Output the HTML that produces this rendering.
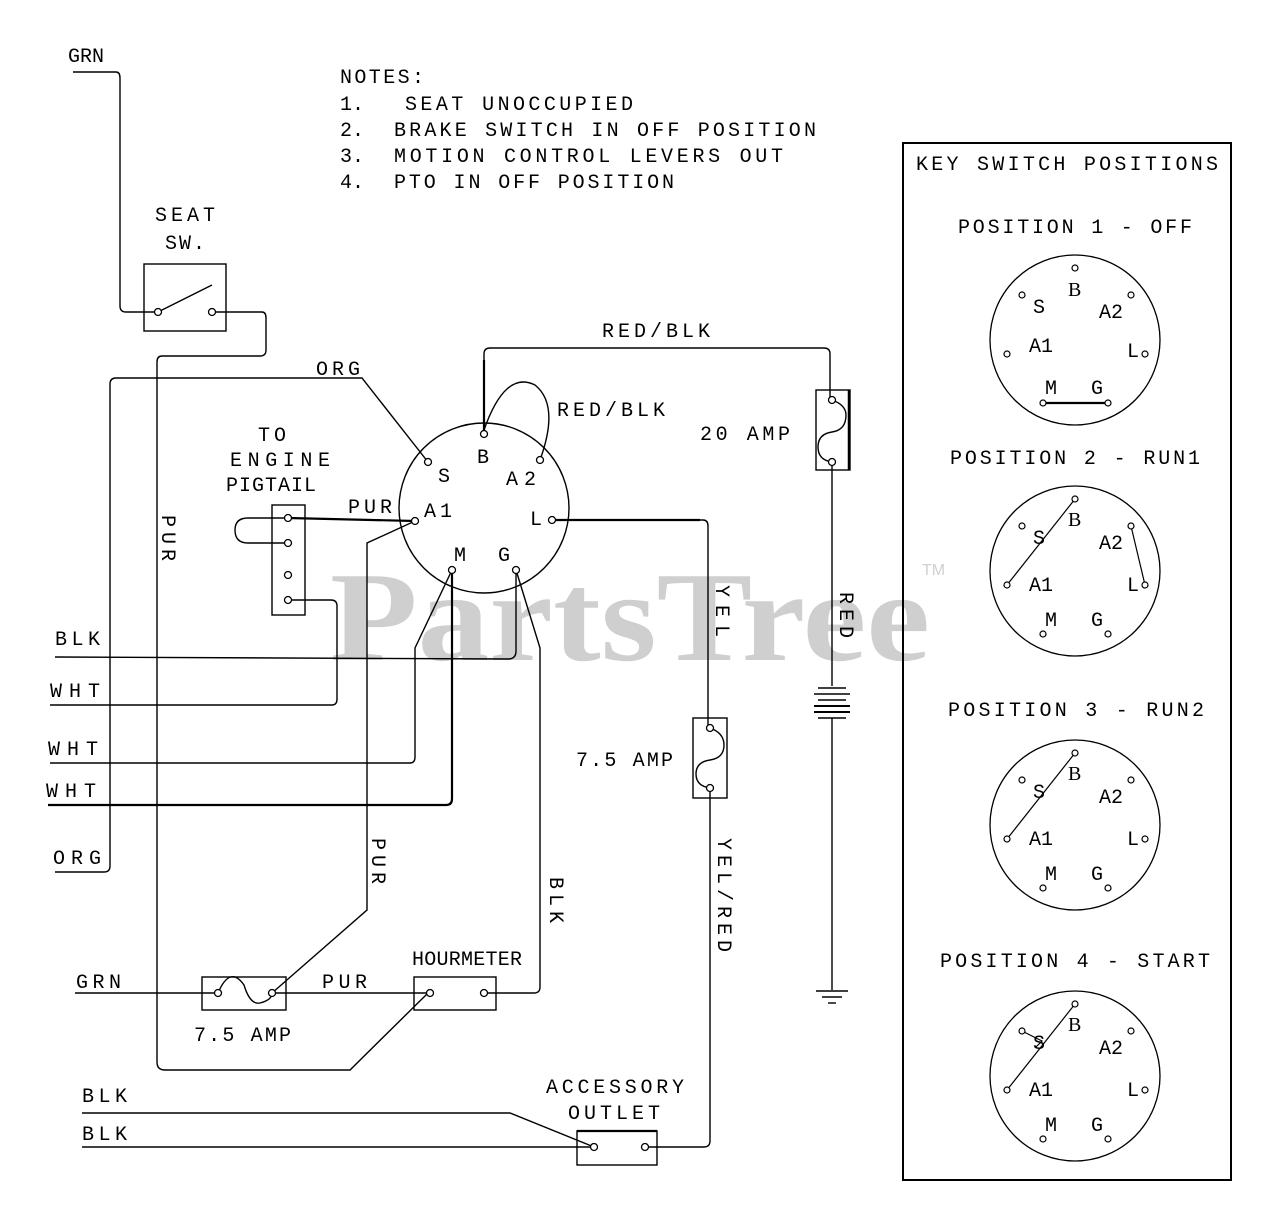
<!DOCTYPE html>
<html><head><meta charset="utf-8"><style>
html,body{margin:0;padding:0;background:#fff}
svg{display:block}
text{font-family:"Liberation Mono",monospace;font-size:20px;fill:#000}
</style></head><body>
<svg width="1280" height="1220" viewBox="0 0 1280 1220" xmlns="http://www.w3.org/2000/svg">
<text x="330" y="660" style="font-family:'Liberation Serif',serif;font-weight:bold;font-size:128px;fill:#cfcfcf" textLength="600" lengthAdjust="spacingAndGlyphs">PartsTree</text>
<text x="922" y="575" style="font-family:'Liberation Sans',sans-serif;font-size:16px;fill:#d0d0d0">TM</text>

<g fill="none" stroke="#000" stroke-width="1.4">
<path d="M73 72 H116 Q120 72 120 78 V306 Q120 312 126 312 H158"/>
<rect x="144" y="264" width="82" height="67"/>
<line x1="160" y1="311" x2="212" y2="285"/>
<path d="M212 312 H262 Q266 312 266 318 V350 Q266 356 260 356 H162 Q157 356 157 362 V1062 Q157 1070 165 1070 H350 L428 993"/>
<path d="M55 872 H104 Q110 872 110 866 V384 Q110 378 116 378 H362 L428 462"/>
<line x1="55" y1="657" x2="508" y2="659"/>
<path d="M508 659 Q516 659 516 651 V570"/>
<path d="M50 705 H332 Q337 705 337 699 V606 Q337 600 331 600 H288"/>
<path d="M50 763 H410 Q415 763 415 757 V648 L452 570"/>
<path d="M48 805 H446 Q452 805 452 799 V570" stroke-width="2.2"/>
<rect x="272" y="505" width="33" height="110"/>
<path d="M288 518 H248 Q235 518 235 530 Q235 543 248 543 H288"/>
<line x1="288" y1="518" x2="415" y2="521" stroke-width="2.2"/>
<path d="M415 521 L367 543 V910 L272 993"/>
<circle cx="484" cy="508" r="85"/>
<path d="M484 434 V354 Q484 348 490 348 H824 Q830 348 830 354 V400"/>
<line x1="484" y1="434" x2="484" y2="360" stroke-width="2.2"/>
<path d="M484 430 Q505 370 535 385 Q560 405 540 460"/>
<path d="M552 520 H703 Q708 520 708 526 V728"/>
<line x1="552" y1="520" x2="700" y2="520" stroke-width="2.2"/>
<path d="M516 570 L540 648 V987 Q540 993 534 993 H484"/>
<rect x="816" y="390" width="34" height="80"/>
<line x1="849" y1="390" x2="849" y2="470" stroke-width="2.5"/>
<path d="M832 400 Q846 405 846 415 Q846 430 832 432 Q818 434 818 447 Q818 460 832 462"/>
<line x1="832" y1="462" x2="832" y2="686"/>
<line x1="818" y1="688" x2="846" y2="688"/>
<line x1="814" y1="694" x2="850" y2="694"/>
<line x1="818" y1="700" x2="846" y2="700"/>
<line x1="814" y1="706" x2="850" y2="706" stroke-width="2"/>
<line x1="814" y1="712" x2="850" y2="712" stroke-width="2"/>
<line x1="818" y1="718" x2="846" y2="718"/>
<line x1="832" y1="718" x2="832" y2="990"/>
<line x1="816" y1="991" x2="848" y2="991"/>
<line x1="822" y1="997" x2="842" y2="997"/>
<line x1="828" y1="1003" x2="836" y2="1003"/>
<rect x="693" y="718" width="34" height="80"/>
<path d="M710 728 Q724 733 724 745 Q724 758 710 760 Q696 762 696 774 Q696 786 710 788"/>
<path d="M710 788 V1141 Q710 1147 704 1147 H645"/>
<line x1="75" y1="993" x2="218" y2="993"/>
<rect x="202" y="977" width="84" height="33"/>
<path d="M218 993 Q230 965 244 985 Q250 1005 260 1003 Q272 1000 272 993"/>
<line x1="272" y1="993" x2="430" y2="993"/>
<rect x="414" y="977" width="82" height="33"/>
<path d="M82 1113 H510 L594 1147"/>
<line x1="82" y1="1147" x2="594" y2="1147"/>
<rect x="577" y="1131" width="80" height="34"/>
<line x1="577" y1="1131" x2="657" y2="1131" stroke-width="2.2"/>
<rect x="903" y="143" width="328" height="1037" stroke-width="2"/>
</g>
<g fill="#fff" stroke="#000" stroke-width="1.3">
<circle cx="158" cy="312" r="3.5"/><circle cx="212" cy="312" r="3.5"/>
<circle cx="288" cy="518" r="3.5"/><circle cx="288" cy="543" r="3.5"/><circle cx="288" cy="575" r="3.5"/><circle cx="288" cy="600" r="3.5"/>
<circle cx="428" cy="462" r="3.5"/><circle cx="484" cy="434" r="3.5"/><circle cx="540" cy="460" r="3.5"/>
<circle cx="415" cy="521" r="3.5"/><circle cx="552" cy="520" r="3.5"/><circle cx="452" cy="570" r="3.5"/><circle cx="516" cy="570" r="3.5"/>
<circle cx="832" cy="400" r="3.5"/><circle cx="832" cy="462" r="3.5"/>
<circle cx="710" cy="728" r="3.5"/><circle cx="710" cy="788" r="3.5"/>
<circle cx="218" cy="993" r="3.5"/><circle cx="272" cy="993" r="3.5"/>
<circle cx="430" cy="993" r="3.5"/><circle cx="484" cy="993" r="3.5"/>
<circle cx="594" cy="1147" r="3.5"/><circle cx="645" cy="1147" r="3.5"/>
</g>

<text x="68" y="62">GRN</text>
<text x="340" y="83" textLength="84">NOTES:</text>
<text x="340" y="110">1.</text><text x="405" y="110" textLength="228">SEAT UNOCCUPIED</text>
<text x="340" y="136">2.</text><text x="394" y="136" textLength="422">BRAKE SWITCH IN OFF POSITION</text>
<text x="340" y="162">3.</text><text x="394" y="162" textLength="389">MOTION CONTROL LEVERS OUT</text>
<text x="340" y="188">4.</text><text x="394" y="188" textLength="280">PTO IN OFF POSITION</text>
<text x="155" y="221" textLength="60">SEAT</text>
<text x="165" y="249" textLength="40">SW.</text>
<text x="316" y="375" textLength="44">ORG</text>
<text x="602" y="337" textLength="108">RED/BLK</text>
<text x="557" y="416" textLength="108">RED/BLK</text>
<text x="700" y="440" textLength="90">20 AMP</text>
<text x="258" y="441" textLength="28">TO</text>
<text x="230" y="466" textLength="100">ENGINE</text>
<text x="226" y="491" textLength="90">PIGTAIL</text>
<text x="348" y="513" textLength="44">PUR</text>
<text x="438" y="482">S</text>
<text x="477" y="463">B</text>
<text x="506" y="485" textLength="30">A2</text>
<text x="424" y="517" textLength="28">A1</text>
<text x="530" y="525">L</text>
<text x="454" y="561">M</text>
<text x="498" y="561">G</text>
<text x="55" y="645" textLength="45">BLK</text>
<text x="50" y="697" textLength="50">WHT</text>
<text x="48" y="755" textLength="50">WHT</text>
<text x="46" y="797" textLength="50">WHT</text>
<text x="53" y="864" textLength="48">ORG</text>
<text x="576" y="766" textLength="97">7.5 AMP</text>
<text x="76" y="988" textLength="45">GRN</text>
<text x="322" y="988" textLength="45">PUR</text>
<text x="194" y="1041" textLength="97">7.5 AMP</text>
<text x="412" y="965" textLength="110">HOURMETER</text>
<text x="546" y="1093" textLength="138">ACCESSORY</text>
<text x="568" y="1119" textLength="92">OUTLET</text>
<text x="82" y="1102" textLength="45">BLK</text>
<text x="82" y="1140" textLength="45">BLK</text>
<text transform="translate(162,515) rotate(90)" textLength="46">PUR</text>
<text transform="translate(372,838) rotate(90)" textLength="46">PUR</text>
<text transform="translate(550,877) rotate(90)" textLength="46">BLK</text>
<text transform="translate(716,585) rotate(90)" textLength="52">YEL</text>
<text transform="translate(840,592) rotate(90)" textLength="46">RED</text>
<text transform="translate(718,838) rotate(90)" textLength="114">YEL/RED</text>

<text x="916" y="170" textLength="302">KEY SWITCH POSITIONS</text>
<text x="958" y="233" textLength="234">POSITION 1 - OFF</text>
<text x="950" y="464" textLength="250">POSITION 2 - RUN1</text>
<text x="948" y="716" textLength="256">POSITION 3 - RUN2</text>
<text x="940" y="967" textLength="270">POSITION 4 - START</text>

<g transform="translate(1075,340)">
<circle r="85" fill="none" stroke="#000" stroke-width="1.3"/>
<line x1="-32" y1="63" x2="33" y2="63" stroke="#000" stroke-width="2.2"/>
<g fill="#fff" stroke="#000" stroke-width="1.2"><circle cx="0" cy="-72" r="3"/><circle cx="-53" cy="-45" r="3"/><circle cx="56" cy="-45" r="3"/><circle cx="-68" cy="14" r="3"/><circle cx="70" cy="14" r="3"/><circle cx="-32" cy="63" r="3"/><circle cx="33" cy="63" r="3"/></g>
<text x="-7" y="-44" style="font-family:'Liberation Serif',serif">B</text><text x="-42" y="-27">S</text><text x="24" y="-22">A2</text><text x="-46" y="12">A1</text><text x="52" y="17">L</text><text x="-30" y="54">M</text><text x="16" y="54">G</text>
</g>
<g transform="translate(1075,571)">
<circle r="85" fill="none" stroke="#000" stroke-width="1.3"/>
<line x1="-68" y1="14" x2="0" y2="-72" stroke="#000" stroke-width="1.2"/><line x1="56" y1="-45" x2="70" y2="14" stroke="#000" stroke-width="1.2"/>
<g fill="#fff" stroke="#000" stroke-width="1.2"><circle cx="0" cy="-72" r="3"/><circle cx="-53" cy="-45" r="3"/><circle cx="56" cy="-45" r="3"/><circle cx="-68" cy="14" r="3"/><circle cx="70" cy="14" r="3"/><circle cx="-32" cy="63" r="3"/><circle cx="33" cy="63" r="3"/></g>
<text x="-7" y="-45" style="font-family:'Liberation Serif',serif">B</text><text x="-42" y="-27">S</text><text x="24" y="-22">A2</text><text x="-46" y="20">A1</text><text x="52" y="20">L</text><text x="-30" y="55">M</text><text x="16" y="55">G</text>
</g>
<g transform="translate(1075,825)">
<circle r="85" fill="none" stroke="#000" stroke-width="1.3"/>
<line x1="-68" y1="14" x2="0" y2="-72" stroke="#000" stroke-width="1.2"/>
<g fill="#fff" stroke="#000" stroke-width="1.2"><circle cx="0" cy="-72" r="3"/><circle cx="-53" cy="-45" r="3"/><circle cx="56" cy="-45" r="3"/><circle cx="-68" cy="14" r="3"/><circle cx="70" cy="14" r="3"/><circle cx="-32" cy="63" r="3"/><circle cx="33" cy="63" r="3"/></g>
<text x="-7" y="-45" style="font-family:'Liberation Serif',serif">B</text><text x="-42" y="-27">S</text><text x="24" y="-22">A2</text><text x="-46" y="20">A1</text><text x="52" y="20">L</text><text x="-30" y="55">M</text><text x="16" y="55">G</text>
</g>
<g transform="translate(1075,1076)">
<circle r="85" fill="none" stroke="#000" stroke-width="1.3"/>
<line x1="-68" y1="14" x2="0" y2="-72" stroke="#000" stroke-width="1.2"/><path d="M-53 -45 L-33 -35 L-40 -28" fill="none" stroke="#000" stroke-width="1.2"/>
<g fill="#fff" stroke="#000" stroke-width="1.2"><circle cx="0" cy="-72" r="3"/><circle cx="-53" cy="-45" r="3"/><circle cx="56" cy="-45" r="3"/><circle cx="-68" cy="14" r="3"/><circle cx="70" cy="14" r="3"/><circle cx="-32" cy="63" r="3"/><circle cx="33" cy="63" r="3"/></g>
<text x="-7" y="-45" style="font-family:'Liberation Serif',serif">B</text><text x="-42" y="-27">S</text><text x="24" y="-22">A2</text><text x="-46" y="20">A1</text><text x="52" y="20">L</text><text x="-30" y="55">M</text><text x="16" y="55">G</text>
</g>
</svg>
</body></html>
